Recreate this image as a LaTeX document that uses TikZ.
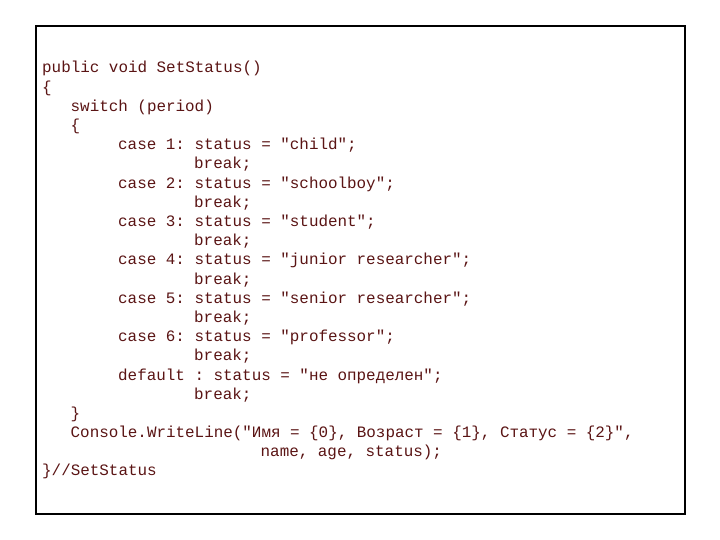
\documentclass[tikz,border=0pt]{standalone}
\usepackage{fontspec}
\setmonofont{Liberation Mono}
\definecolor{codecol}{RGB}{90,20,20}
\begin{document}
\begin{tikzpicture}[x=1pt,y=-1pt,
  codeline/.style={anchor=base west,inner sep=0pt,font=\fontsize{15.9}{18}\ttfamily,text=codecol}]
\useasboundingbox (0,0) rectangle (720,540);
\draw[line width=1.5pt] (36,26) rectangle (685,514);
\def\cw{9.5}
\foreach \i/\n/\t in {
 0/0/{public void SetStatus()},
 1/0/{\{},
 2/3/{switch (period)},
 3/3/{\{},
 4/8/{case 1: status = "child";},
 5/16/{break;},
 6/8/{case 2: status = "schoolboy";},
 7/16/{break;},
 8/8/{case 3: status = "student";},
 9/16/{break;},
 10/8/{case 4: status = "junior researcher";},
 11/16/{break;},
 12/8/{case 5: status = "senior researcher";},
 13/16/{break;},
 14/8/{case 6: status = "professor";},
 15/16/{break;},
 16/8/{default : status = "не определен";},
 17/16/{break;},
 18/3/{\}},
 19/3/{Console.WriteLine("Имя = \{0\}, Возраст = \{1\}, Статус = \{2\}",},
 20/23/{name, age, status);},
 21/0/{\}//SetStatus}
}{
  \node[codeline] (l\i) at ({42+\n*\cw},{73+\i*19.19}) {\t};
}
\end{tikzpicture}
\end{document}
